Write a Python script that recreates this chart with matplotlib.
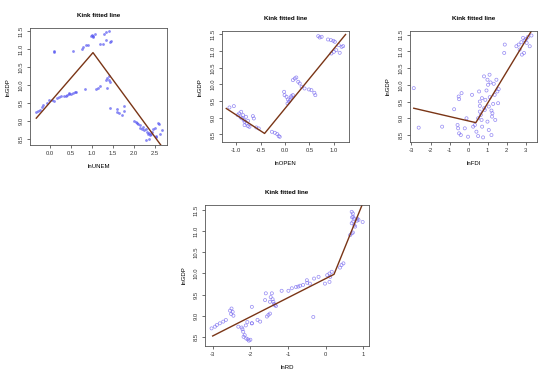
import numpy as np
import matplotlib
matplotlib.use("Agg")
import matplotlib.pyplot as plt

plt.rcParams['font.family'] = ['Liberation Sans', 'DejaVu Sans']

# lnUNEM panel
unem_x = [-0.33, -0.28, -0.24, -0.2, -0.16, -0.08, -0.02, 0.04, 0.1, 0.16, 0.22, 0.27, 0.33,
          0.37, 0.4, 0.44, 0.46, 0.5, 0.54, 0.58, 0.62, 0.83, 0.1, 0.1, 0.54, 0.75, 0.78,
          0.86, 0.91, 0.97, 1.0, 1.03, 1.06, 1.02, 1.18, 1.27, 1.29, 1.34, 1.32, 1.41, 1.43,
          1.45, 1.09, 1.15, 1.19, 1.33, 1.36, 1.39, 1.41, 1.43, 1.35, 1.43, 1.59, 1.6, 1.65,
          1.71, 1.75, 1.77, 2.0, 2.04, 2.06, 2.08, 2.13, 2.14, 2.18, 2.22, 2.24, 2.29, 2.3,
          2.33, 2.35, 2.37, 2.4, 2.42, 2.46, 2.5, 2.52, 2.53, 2.57, 2.6, 2.62, 2.66, 2.29, 2.36]
unem_y = [9.24, 9.27, 9.31, 9.4, 9.45, 9.5, 9.59, 9.59, 9.57, 9.63, 9.67, 9.69, 9.7,
          9.69, 9.72, 9.74, 9.78, 9.76, 9.79, 9.8, 9.8, 9.88, 10.94, 10.91, 10.94, 11.0, 11.05,
          11.1, 11.12, 11.35, 11.4, 11.37, 11.42, 11.33, 11.15, 11.14, 11.43, 11.47, 11.24, 11.5, 11.2,
          11.22, 9.9, 9.92, 9.97, 10.13, 10.19, 10.24, 10.14, 10.07, 9.93, 9.36, 9.34, 9.25, 9.21,
          9.18, 9.41, 9.29, 9.0, 8.97, 8.95, 8.92, 8.88, 8.81, 8.78, 8.84, 8.74, 8.77, 8.7,
          8.64, 8.66, 8.62, 8.64, 8.7, 8.77, 8.8, 8.59, 8.55, 8.95, 8.92, 8.64, 8.76, 8.48, 8.5]

# lnOPEN panel
open_x = [-1.14, -1.05, -0.97, -0.94, -0.9, -0.86, -0.88, -0.84, -0.83, -0.79, -0.83, -0.76,
          -0.73, -0.66, -0.64, -0.59, -0.54, -0.8, -0.91, -0.76, -0.27, -0.21, -0.16, -0.13, -0.11,
          -0.02, -0.01, 0.03, 0.06, 0.1, 0.12, 0.13, 0.16, 0.05, 0.08, 0.16, 0.2, 0.23, 0.27,
          0.3, 0.34, 0.4, 0.49, 0.54, 0.6, 0.62, 0.68, 0.71, 0.75, 0.88, 0.94, 0.99, 1.02,
          1.1, 1.16, 1.19, 0.95, 1.0, 1.05, 1.12]
open_y = [9.31, 9.35, 9.08, 9.13, 9.18, 9.08, 8.98, 8.93, 8.88, 8.83, 8.78, 8.75,
          8.73, 9.05, 8.98, 8.71, 8.68, 9.03, 9.01, 8.91, 8.58, 8.55, 8.51, 8.45, 8.43,
          9.78, 9.68, 9.63, 9.55, 9.53, 9.61, 9.65, 9.68, 9.43, 9.48, 10.13, 10.18, 10.21, 10.08,
          10.03, 9.93, 9.88, 9.85, 9.83, 9.75, 9.68, 11.45, 11.41, 11.43, 11.35, 11.33, 11.31, 11.28,
          11.18, 11.13, 11.15, 10.93, 10.98, 11.03, 10.95]

# lnFDI panel
fdi_x = [-2.88, -2.62, -1.39, -0.76, -0.58, -0.55, -0.5, -0.41, -0.52, -0.37, -0.5, -0.2,
         -0.11, -0.03, 0.18, 0.24, 0.33, 0.41, 0.5, 0.55, 0.59, 0.59, 0.64, 0.68, 0.71, 0.76,
         0.81, 0.85, 0.88, 0.94, 0.99, 1.02, 1.06, 1.11, 1.15, 1.2, 1.23, 1.29, 1.32, 1.37,
         1.46, 1.51, 1.55, 1.58, 0.99, 1.06, 1.2, 0.5, 0.59, 0.82, 1.25, 1.4, 0.7, 1.1,
         1.9, 1.87, 2.51, 2.63, 2.77, 2.86, 2.94, 3.03, 3.12, 3.21, 2.91, 2.8, 2.68, 3.3, 3.05]
fdi_y = [9.9, 8.72, 8.75, 9.27, 8.8, 8.7, 8.55, 8.5, 9.65, 9.75, 9.57, 8.7,
         9.0, 8.45, 9.7, 8.75, 8.8, 8.6, 8.47, 9.8, 9.37, 9.2, 9.1, 8.95, 8.75, 8.43,
         10.25, 9.25, 9.55, 9.83, 10.15, 10.0, 9.35, 9.63, 10.07, 9.23, 9.05, 9.43, 10.03, 9.7,
         10.15, 9.8, 9.45, 9.87, 8.9, 8.65, 8.5, 9.0, 9.5, 9.3, 9.15, 8.95, 9.6, 10.3,
         11.2, 10.95, 11.15, 11.2, 11.27, 11.4, 11.33, 11.37, 11.43, 11.15, 10.95, 10.9, 11.05, 11.47, 11.25]

# lnRD panel
rd_x = [-3.03, -2.94, -2.89, -2.81, -2.72, -2.65, -2.54, -2.5, -2.47, -2.45, -2.51,
        -2.32, -2.23, -2.19, -2.15, -2.21, -2.18, -2.11, -2.07, -2.04, -2.0, -1.96, -2.12, -2.08,
        -1.96, -1.96, -1.81, -1.74, -1.61, -1.59, -1.56, -1.52, -1.48, -1.46, -1.43, -1.41, -1.39,
        -1.37, -1.35, -1.32, -1.48, -1.17, -0.99, -0.9, -0.79, -0.73, -0.68, -0.6, -0.5, -0.49,
        -0.42, -0.31, -0.19, -0.33, -0.02, 0.1, 0.04, 0.1, 0.16, 0.12, 0.38, 0.42, 0.47,
        0.65, 0.69, 0.72, 0.69, 0.72, 0.73, 0.75, 0.73, 0.69, 0.78, 0.83, 0.87, 0.98, 0.84, 0.7, 0.76]
rd_y = [8.7, 8.74, 8.78, 8.82, 8.86, 8.9, 9.12, 9.17, 9.09, 9.0, 9.04,
        8.74, 8.72, 8.62, 8.54, 8.68, 8.5, 8.46, 8.44, 8.41, 8.43, 9.21, 8.77, 8.85,
        8.82, 8.82, 8.9, 8.86, 9.37, 9.53, 8.98, 9.02, 9.05, 9.44, 9.53, 9.39, 9.33,
        9.28, 9.25, 9.23, 9.33, 9.59, 9.59, 9.65, 9.68, 9.69, 9.71, 9.73, 9.84, 9.78,
        9.76, 9.88, 9.92, 8.97, 9.76, 9.8, 9.96, 10.0, 10.04, 9.92, 10.14, 10.2, 10.24,
        10.91, 10.95, 10.97, 11.46, 11.42, 11.34, 11.3, 11.23, 11.19, 11.11, 11.25, 11.27, 11.22, 11.3, 11.33, 11.14]

# kink fits: start x, kink x, end x, and y at those x
unem_fit = ([-0.33, 1.02, 2.8], [9.08, 10.9, 8.07])
open_fit = ([-1.205, -0.42, 1.24], [9.28, 8.53, 11.5])
fdi_fit = ([-2.88, 0.38, 3.4], [9.3, 8.87, 11.7])
rd_fit = ([-3.0, 0.22, 1.0], [8.52, 9.98, 11.7])

yticks = [8.5, 9.0, 9.5, 10.0, 10.5, 11.0, 11.5]

fig = plt.figure(figsize=(5.5, 3.8), dpi=100)
fig.patch.set_facecolor('white')

panels = [
    ([0.0545, 0.618, 0.249, 0.308], unem_x, unem_y, unem_fit, 'lnUNEM',
     (-0.48, 2.78), (8.33, 11.58), [0.0, 0.5, 1.0, 1.5, 2.0, 2.5], ['0.0', '0.5', '1.0', '1.5', '2.0', '2.5'], True),
    ([0.403, 0.626, 0.2315, 0.292], open_x, open_y, open_fit, 'lnOPEN',
     (-1.30, 1.31), (8.27, 11.6), [-1.0, -0.5, 0.0, 0.5, 1.0], ['-1.0', '-0.5', '0.0', '0.5', '1.0'], False),
    ([0.745, 0.627, 0.232, 0.291], fdi_x, fdi_y, fdi_fit, 'lnFDI',
     (-3.09, 3.61), (8.3, 11.6), [-3, -2, -1, 0, 1, 2, 3], ['-3', '-2', '-1', '0', '1', '2', '3'], False),
    ([0.373, 0.0903, 0.298, 0.370], rd_x, rd_y, rd_fit, 'lnRD',
     (-3.2, 1.15), (8.29, 11.62), [-3, -2, -1, 0, 1], ['-3', '-2', '-1', '0', '1'], False),
]

for rect, xs, ys, fit, xlab, xl, yl, xt, xtl, filled in panels:
    ax = fig.add_axes(rect)
    if filled:
        ax.scatter(xs, ys, s=4, color='#4b4bf0', alpha=0.65, linewidths=0)
    else:
        ax.scatter(xs, ys, s=5, facecolors='none', edgecolors='#7a6cf0', linewidths=0.5, alpha=0.8)
    ax.plot(fit[0], fit[1], color='#7a3516', lw=1.0)
    ax.set_xlim(xl)
    ax.set_ylim(yl)
    ax.set_xticks(xt)
    ax.set_xticklabels(xtl)
    ax.set_yticks(yticks)
    ax.set_yticklabels(['%.1f' % v for v in yticks], rotation=90, va='center')
    ax.tick_params(length=2, width=0.5, pad=2.5, labelsize=4.2, colors='#333333')
    for sp in ax.spines.values():
        sp.set_linewidth(0.6)
        sp.set_color('#555555')
    ax.set_xlabel(xlab, fontsize=4.3, labelpad=5.5)
    ax.set_ylabel('lnGDP', fontsize=4.3, labelpad=5.5)
    ax.set_title('Kink fitted line', fontsize=4.5, fontweight='bold', pad=8)

fig.savefig('out.png', dpi=100, facecolor='white')
